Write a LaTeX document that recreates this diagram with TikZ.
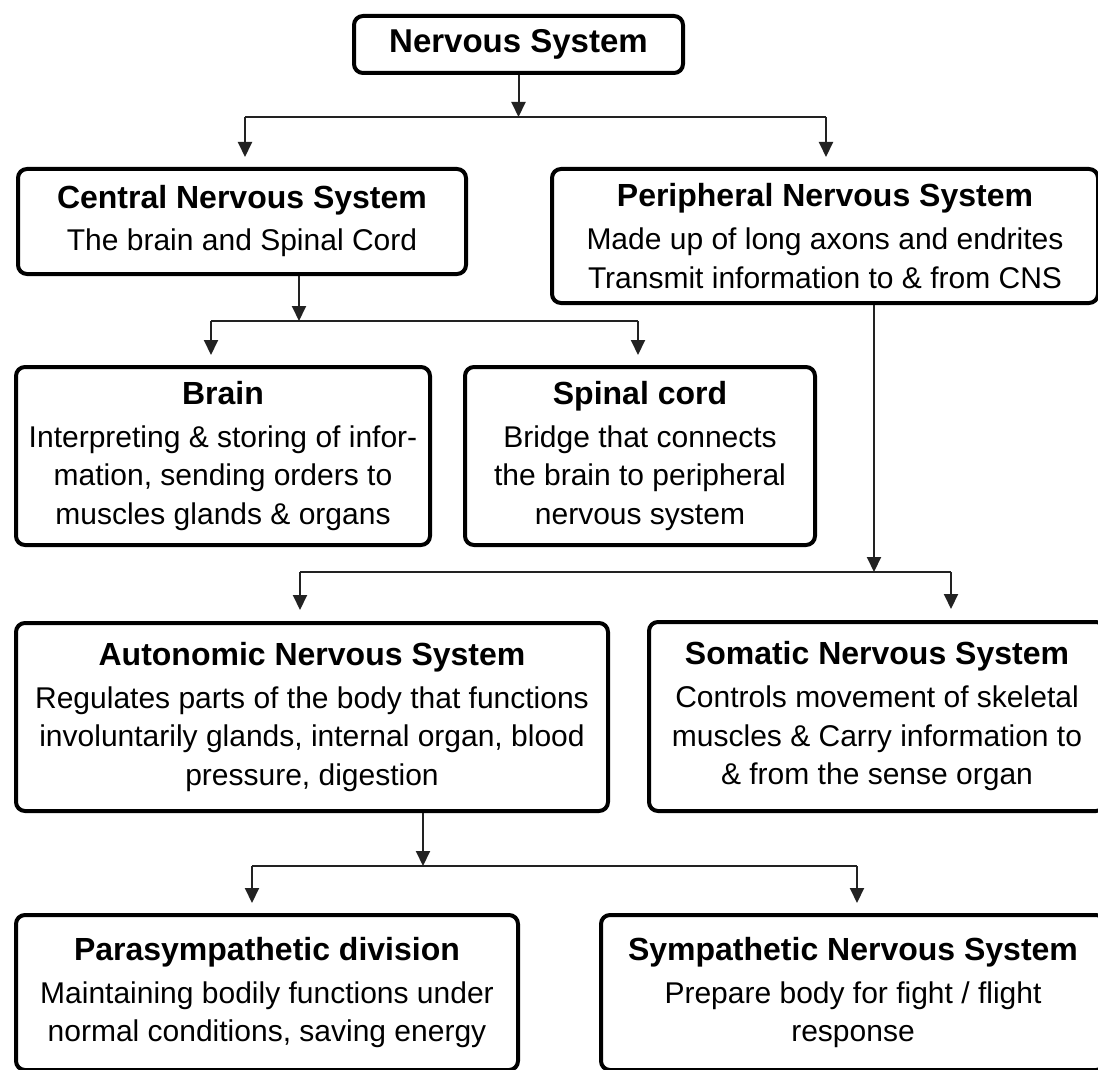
\documentclass[tikz,border=0pt]{standalone}
\usepackage{fontspec}
\setmainfont{Liberation Sans}
\usetikzlibrary{arrows.meta}
\definecolor{conncol}{HTML}{222222}
\newcommand{\ttl}[1]{{\fontsize{32pt}{38.5pt}\selectfont\bfseries #1}}
\tikzset{
  box/.style={draw=black, line width=4pt, rounded corners=9pt, inner sep=0pt,
    align=center, font={\fontsize{30pt}{38.5pt}\selectfont}},
  conn/.style={draw=conncol, line width=2pt},
  arr/.style={conn, -{Triangle[length=15pt,width=14pt]}},
}
\begin{document}
\begin{tikzpicture}[x=1pt,y=-1pt]
\useasboundingbox (0,0) rectangle (1098,1070);
\clip (0,0) rectangle (1098,1070);

% boxes
\node[box, minimum width=329pt, minimum height=57pt,
  font={\fontsize{33pt}{40pt}\selectfont\bfseries}] (ns) at (518.5,44.5) {Nervous System};

\node[box, minimum width=448pt, minimum height=105pt] (cns) at (242,221.5)
  {\ttl{Central Nervous System}\\[3.5pt] The brain and Spinal Cord};

\node[box, minimum width=546pt, minimum height=134pt] (pns) at (825,236)
  {\ttl{Peripheral Nervous System}\\[4.5pt] Made up of long axons and endrites\\ Transmit information to \& from CNS};

\node[box, minimum width=414pt, minimum height=178pt] (brain) at (223,456)
  {\ttl{Brain}\\[4.5pt] Interpreting \& storing of infor-\\ mation, sending orders to\\ muscles glands \& organs};

\node[box, minimum width=350pt, minimum height=178pt] (spinal) at (640,456)
  {\ttl{Spinal cord}\\[4.5pt] Bridge that connects\\ the brain to peripheral\\ nervous system};

\node[box, minimum width=592pt, minimum height=188pt] (auto) at (312,717)
  {\ttl{Autonomic Nervous System}\\[4.5pt] Regulates parts of the body that functions\\ involuntarily glands, internal organ, blood\\ pressure, digestion};

\node[box, minimum width=456pt, minimum height=189pt] (soma) at (877,716.5)
  {\ttl{Somatic Nervous System}\\[4.5pt] Controls movement of skeletal\\ muscles \& Carry information to\\ \& from the sense organ};

\node[box, minimum width=502pt, minimum height=155pt] (para) at (267,992.5)
  {\ttl{Parasympathetic division}\\[4.5pt] Maintaining bodily functions under\\ normal conditions, saving energy};

\node[box, minimum width=504pt, minimum height=155pt] (symp) at (853,992.5)
  {\ttl{Sympathetic Nervous System}\\[4.5pt] Prepare body for fight / flight\\ response};

% junction coordinates
\coordinate (h1l) at (245,117);
\coordinate (h1r) at (826,117);
\coordinate (c2) at (299,321);
\coordinate (h2l) at (211,321);
\coordinate (h2r) at (638,321);
\coordinate (c3) at (874,572);
\coordinate (h3l) at (300,572);
\coordinate (h3r) at (951,572);
\coordinate (c4) at (423,866);
\coordinate (h4l) at (252,866);
\coordinate (h4r) at (857,866);

% level 1
\draw[arr] (ns.south) -- (ns.south |- h1l);
\draw[conn] (h1l) -- (h1r);
\draw[arr, shorten >=10pt] (h1l) -- (h1l |- cns.north);
\draw[arr, shorten >=10pt] (h1r) -- (h1r |- pns.north);

% level 2
\draw[arr] (c2 |- cns.south) -- (c2);
\draw[conn] (h2l) -- (h2r);
\draw[arr, shorten >=10pt] (h2l) -- (h2l |- brain.north);
\draw[arr, shorten >=10pt] (h2r) -- (h2r |- spinal.north);

% level 3
\draw[arr] (c3 |- pns.south) -- (c3);
\draw[conn] (h3l) -- (h3r);
\draw[arr, shorten >=11pt] (h3l) -- (h3l |- auto.north);
\draw[arr, shorten >=11pt] (h3r) -- (h3r |- soma.north);

% level 4
\draw[arr] (c4 |- auto.south) -- (c4);
\draw[conn] (h4l) -- (h4r);
\draw[arr, shorten >=10pt] (h4l) -- (h4l |- para.north);
\draw[arr, shorten >=10pt] (h4r) -- (h4r |- symp.north);
\end{tikzpicture}
\end{document}
